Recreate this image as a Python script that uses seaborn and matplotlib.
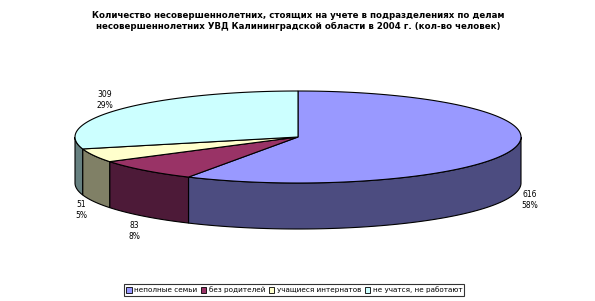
import numpy as np
import matplotlib
matplotlib.use("Agg")
import matplotlib.pyplot as plt
from matplotlib.patches import Polygon, Patch
import seaborn as sns

# ---- data ----
categories = ["неполные семьи", "без родителей", "учащиеся интернатов", "не учатся, не работают"]
values = [616, 83, 51, 309]
title_lines = ["Количество несовершеннолетних, стоящих на учете в подразделениях по делам",
               "несовершеннолетних УВД Калининградской области в 2004 г. (кол-во человек)"]

# ---- style ----
top_colors = ["#9999FF", "#993366", "#FFFFCC", "#CCFFFF"]
side_colors = ["#4C4C80", "#4D1A38", "#808066", "#668080"]
label_pos = [(530, 200), (134, 231), (81, 210), (105, 100)]

sns.set_style("white")
plt.rcParams['font.family'] = ['DejaVu Sans']
plt.rcParams['text.color'] = 'black'

W, H = 595, 301
fig = plt.figure(figsize=(W / 100, H / 100), dpi=100)
ax = fig.add_axes([0, 0, 1, 1])
ax.set_xlim(0, W)
ax.set_ylim(H, 0)
ax.axis("off")

cx, cy, rx, ry, depth = 298, 137, 223, 46, 46

total = sum(values)
fracs = [v / total for v in values]
starts = []
a = 90.0
for f in fracs:
    starts.append((a, a - 360 * f))
    a -= 360 * f


def ept(theta_deg, dy=0):
    t = np.radians(theta_deg)
    return cx + rx * np.cos(t), cy - ry * np.sin(t) + dy


# side walls (visible front half: angle in [-180, 0])
for (a0, a1), col in zip(starts, side_colors):
    hi, lo = a0, a1
    for shift in (0, -360, 360):
        h, l = hi + shift, lo + shift
        h2, l2 = min(h, 0), max(l, -180)
        if h2 > l2:
            th = np.linspace(l2, h2, 200)
            top = [ept(t) for t in th]
            bot = [ept(t, depth) for t in th[::-1]]
            ax.add_patch(Polygon(top + bot, closed=True, facecolor=col,
                                 edgecolor="black", linewidth=0.8, zorder=2))

# top wedges
for (a0, a1), col in zip(starts, top_colors):
    th = np.linspace(a0, a1, 300)
    pts = [(cx, cy)] + [ept(t) for t in th]
    ax.add_patch(Polygon(pts, closed=True, facecolor=col, edgecolor="black",
                         linewidth=0.8, zorder=3, joinstyle="miter"))

# data labels
for v, f, (x, y) in zip(values, fracs, label_pos):
    ax.text(x, y, f"{v}\n{round(f * 100)}%", ha="center", va="center",
            fontsize=5.5, linespacing=1.2, zorder=5, color="black")

# title
ax.text(298, 15, title_lines[0], ha="center", va="center", fontsize=6.2,
        fontweight="bold", color="black")
ax.text(298, 26, title_lines[1], ha="center", va="center", fontsize=6.2,
        fontweight="bold", color="black")

# legend
handles = [Patch(facecolor=c, edgecolor="black", linewidth=0.6) for c in top_colors]
leg = fig.legend(handles, categories, loc="center", bbox_to_anchor=(294 / W, 1 - 290 / H),
                 ncol=4, fontsize=5.2, frameon=True, fancybox=False, edgecolor="black",
                 handlelength=0.8, handleheight=0.8, handletextpad=0.3, columnspacing=0.5,
                 borderpad=0.3, borderaxespad=0, labelcolor="black")
leg.get_frame().set_linewidth(0.8)

fig.savefig("out.png", dpi=100, facecolor="white")
